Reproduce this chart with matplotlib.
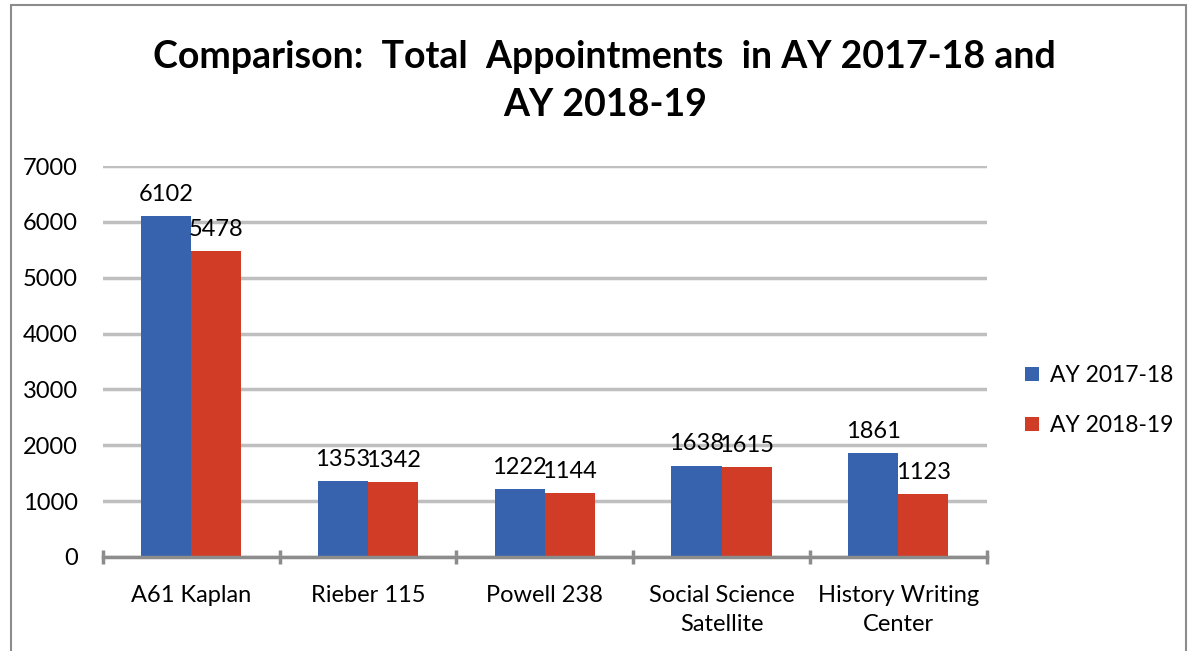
import numpy as np
import matplotlib
matplotlib.use("Agg")
import matplotlib.pyplot as plt
from matplotlib.patches import Rectangle

# data
categories = ["A61 Kaplan", "Rieber 115", "Powell 238", "Social Science\nSatellite", "History Writing\nCenter"]
ay_2017_18 = [6102, 1353, 1222, 1638, 1861]
ay_2018_19 = [5478, 1342, 1144, 1615, 1123]
series_names = ["AY 2017-18", "AY 2018-19"]
yticks = [0, 1000, 2000, 3000, 4000, 5000, 6000, 7000]

plt.rcParams['font.family'] = ['Lato', 'DejaVu Sans']

blue = "#3762AE"
red = "#D13C27"

fig = plt.figure(figsize=(11.93, 6.51), dpi=100)
ax = fig.add_axes([0.0863, 0.1444, 0.7407, 0.6006])

x = np.arange(len(categories))
w = 0.283
b1 = ax.bar(x - w / 2, ay_2017_18, w, color=blue, label=series_names[0], zorder=3)
b2 = ax.bar(x + w / 2, ay_2018_19, w, color=red, label=series_names[1], zorder=3)

for bars, vals in ((b1, ay_2017_18), (b2, ay_2018_19)):
    for r, v in zip(bars, vals):
        ax.text(r.get_x() + r.get_width() / 2, v + 200, str(v),
                ha="center", va="bottom", fontsize=17, color="black", zorder=4)

ax.set_xlim(-0.5, len(categories) - 0.5)
ax.set_ylim(0, 7000)
ax.set_yticks(yticks)
ax.set_yticklabels([str(t) for t in yticks], fontsize=17)
ax.yaxis.grid(True, color="#BFBFBF", linewidth=2.5, zorder=0)
ax.tick_params(axis="y", length=0, pad=18)

ax.set_xticks(np.arange(len(categories) + 1) - 0.5, minor=False)
ax.set_xticklabels([])
ax.set_xticks(x, minor=True)
ax.set_xticklabels(categories, minor=True, fontsize=17, linespacing=1.5)
ax.tick_params(axis="x", which="major", length=10, width=2.5, color="#8C8C8C", direction="inout")
ax.tick_params(axis="x", which="minor", length=0, pad=20)

for s in ("top", "right", "left"):
    ax.spines[s].set_visible(False)
ax.spines["bottom"].set_color("#8C8C8C")
ax.spines["bottom"].set_linewidth(2.5)
ax.spines["bottom"].set_zorder(5)

fig.text(0.507, 0.912, "Comparison:  Total  Appointments  in AY 2017-18 and",
         ha="center", va="center", fontsize=27, fontweight="bold")
fig.text(0.507, 0.838, "AY 2018-19", ha="center", va="center", fontsize=27, fontweight="bold")

ax.legend(loc="center left", bbox_to_anchor=(1.02, 0.40), frameon=False, fontsize=16.5,
          handlelength=0.6, handleheight=0.6, handletextpad=0.5, labelspacing=1.25)

fig.patches.append(Rectangle((0.009, -0.01), 0.985, 1.002, transform=fig.transFigure,
                             fill=False, edgecolor="#8C8C8C", linewidth=1.5))

fig.savefig("out.png", dpi=100)
